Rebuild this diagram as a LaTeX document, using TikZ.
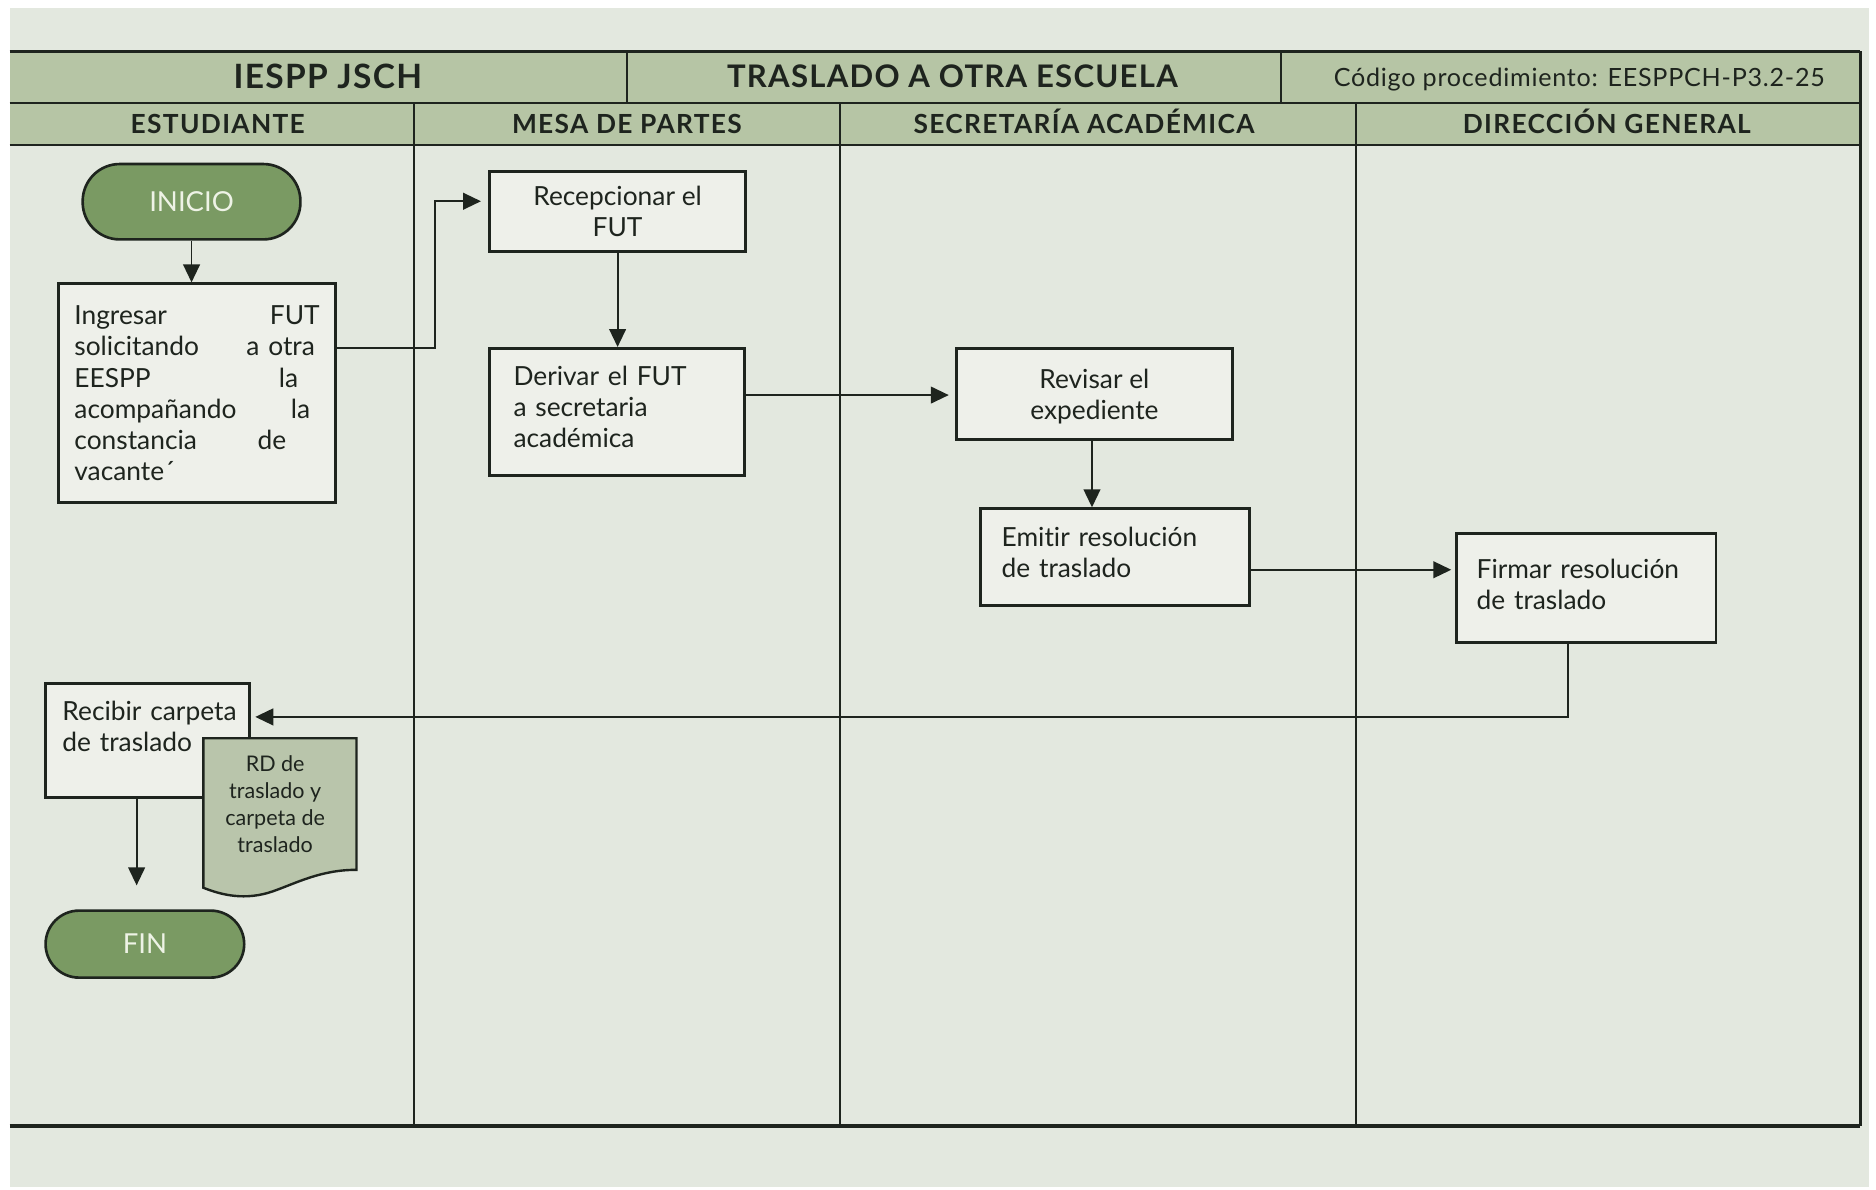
\documentclass[tikz,border=0pt]{standalone}
\usepackage{fontspec}
\setmainfont{Lato}[Ligatures=CommonOff]
\newfontfamily\hdrfont{Lato}[Ligatures=CommonOff,LetterSpace=4]
\newfontfamily\lanefont{Lato}[Ligatures=CommonOff,LetterSpace=5]
\newfontfamily\codefont{Lato}[Ligatures=CommonOff,LetterSpace=3]
\usetikzlibrary{arrows.meta}
\definecolor{bg}{HTML}{E3E8DF}
\definecolor{hdr}{HTML}{B6C5A5}
\definecolor{boxfill}{HTML}{EEF0EA}
\definecolor{termfill}{HTML}{7A9A63}
\definecolor{termtext}{HTML}{EEF3E6}
\definecolor{docfill}{HTML}{B9C5AB}
\definecolor{ink}{HTML}{1E241E}
\begin{document}
\begin{tikzpicture}[x=1pt,y=-1pt,
  every node/.style={font=\fontsize{22}{26}\selectfont, text=ink},
  box/.style={draw=ink, line width=2.4pt, fill=boxfill, inner sep=0pt, anchor=north west},
  term/.style={draw=ink, line width=2.2pt, fill=termfill, text=termtext, anchor=north west, inner sep=0pt, font=\fontsize{23}{26}\selectfont},
  conn/.style={draw=ink, line width=1.5pt, -{Triangle[length=15pt,width=14pt]}},
  lane/.style={draw=ink, line width=1.6pt},
  rule/.style={draw=ink, line width=2pt},
  lanetitle/.style={anchor=base, font=\lanefont\fontsize{22}{24}\bfseries\selectfont},
]
\fill[white] (0,0) rectangle (1568,994);
\fill[bg] (8,7) rectangle (1562,992);
\useasboundingbox (0,0) rectangle (1568,994);
% header band
\fill[hdr] (8,43) rectangle (1555,121);
\draw[rule] (8,43) -- (1555,43);
\draw[rule] (8,86) -- (1555,86);
\draw[rule] (8,121) -- (1555,121);
\draw[rule] (1555,43) -- (1555,941);
\draw[draw=ink, line width=3pt] (8,941) -- (1555,941);
\draw[lane] (524,43) -- (524,86);
\draw[lane] (1071,43) -- (1071,86);
\draw[lane] (346,86) -- (346,941);
\draw[lane] (702,86) -- (702,941);
\draw[lane] (1133,86) -- (1133,941);
% header texts
\node[anchor=base, font=\hdrfont\fontsize{28}{30}\bfseries\selectfont] (h1) at (274,74) {IESPP JSCH};
\node[anchor=base, font=\hdrfont\fontsize{26}{30}\bfseries\selectfont] (h2) at (796,73.5) {TRASLADO A OTRA ESCUELA};
\node[anchor=base, font=\codefont\fontsize{21}{24}\selectfont] (h3) at (1320,72.5) {Código procedimiento: EESPPCH-P3.2-25};
\node[lanetitle] (l1) at (182,111.5) {ESTUDIANTE};
\node[lanetitle] (l2) at (524,111.5) {MESA DE PARTES};
\node[lanetitle] (l3) at (906,111.5) {SECRETARÍA ACADÉMICA};
\node[lanetitle] (l4) at (1343,111.5) {DIRECCIÓN GENERAL};
% nodes
\node[term, rounded corners=31pt, minimum width=182pt, minimum height=63pt] (inicio) at (68,136) {INICIO};
\node[box, minimum width=231pt, minimum height=183pt, text width=205pt, align=left] (ingresar) at (48,236)
 {Ingresar\hfill FUT\\
  solicitando\hfill a otra\kern4pt\\
  EESPP\hfill la\kern18pt\\
  acompañando\hfill la\kern8pt\\
  constancia\hfill de\kern28pt\\
  vacante´};
\node[box, minimum width=214pt, minimum height=67pt, align=center] (recep) at (408,142) {Recepcionar el\\FUT};
\node[box, minimum width=213pt, minimum height=106pt, text width=173pt, text depth=61pt, align=left] (derivar) at (408,290) {Derivar el FUT\\a secretaria\\académica};
\node[box, minimum width=231pt, minimum height=76pt, text depth=0pt, align=center] (revisar) at (798,290) {Revisar el\\expediente};
\node[box, minimum width=225pt, minimum height=81pt, text width=189pt, text depth=34pt, align=left] (emitir) at (818,424) {Emitir resolución\\de traslado};
\node[box, minimum width=217pt, minimum height=91pt, text width=183pt, text depth=32pt, align=left] (firmar) at (1216,445) {Firmar resolución\\de traslado};
\node[box, minimum width=170pt, minimum height=95pt, text width=142pt, text depth=50pt, align=left] (recibir) at (37,570) {\mbox{Recibir carpeta}\\de traslado};
% document
\coordinate (d1) at (170,617);
\coordinate (d2) at (298,617);
\coordinate (d3) at (298,727);
\coordinate (d4) at (170,742);
\draw[draw=ink, line width=2pt, fill=docfill] (d1) -- (d2) -- (d3)
  .. controls (268,727) and (248,738) .. (228,745)
  .. controls (205,753) and (185,748) .. (d4) -- cycle;
\node[font=\fontsize{18}{22.5}\selectfont, align=center] (rdtxt) at (230,672) {RD de\\traslado y\\carpeta de\\traslado};
\node[term, rounded corners=28pt, minimum width=166pt, minimum height=56pt] (fin) at (37,760) {FIN};
% connectors
\draw[conn] (inicio.south) -- (inicio.south |- ingresar.north);
\draw[conn, shorten >=6pt] ([yshift=38pt]ingresar.east) -- ++(82,0) |- ([yshift=8.5pt]recep.west);
\draw[conn] (recep.south) -- (recep.south |- derivar.north);
\draw[conn, shorten >=5pt] ([yshift=14pt]derivar.east) -- ([yshift=14pt]derivar.east -| revisar.west);
\draw[conn] ([xshift=-2pt]revisar.south) -- ([xshift=-2pt]revisar.south |- emitir.north);
\draw[conn, shorten >=3pt] ([yshift=-10.5pt]emitir.east) -- ([yshift=-10.5pt]emitir.east -| firmar.west);
\draw[conn, shorten >=4pt] ([xshift=-15pt]firmar.south) |- ([yshift=19.5pt]recibir.east);
\draw[conn, shorten >=20pt] ([xshift=-9pt]recibir.south) -- ([xshift=-9pt]recibir.south |- fin.north);
\end{tikzpicture}
\end{document}
